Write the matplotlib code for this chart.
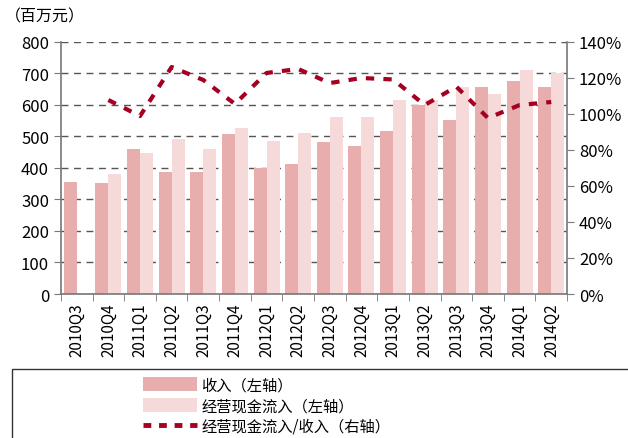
import matplotlib
matplotlib.use("Agg")
from matplotlib import pyplot as plt
from matplotlib.patches import Rectangle, Patch
from matplotlib.lines import Line2D
import numpy as np

plt.rcParams['font.family'] = ['Liberation Sans Narrow', 'Noto Sans CJK SC', 'DejaVu Sans']

# ---- data ----
quarters = ['2010Q3', '2010Q4', '2011Q1', '2011Q2', '2011Q3', '2011Q4',
            '2012Q1', '2012Q2', '2012Q3', '2012Q4', '2013Q1', '2013Q2',
            '2013Q3', '2013Q4', '2014Q1', '2014Q2']
revenue = [354, 351, 459, 386, 386, 507, 399, 412, 482, 469, 517, 599,
           551, 656, 675, 656]
cash_in = [np.nan, 380, 447, 491, 459, 526, 485, 510, 561, 561, 615, 615,
           656, 634, 710, 701]
ratio = [np.nan, 107.6, 98.7, 125.9, 118.7, 105.4, 122.6, 124.8, 117.0,
         119.8, 119.0, 104.8, 115.0, 97.6, 104.8, 106.5]

c_rev = '#E8ADAD'
c_cash = '#F6DADA'
c_line = '#A50021'
cjk = ['Noto Sans CJK SC', 'DejaVu Sans']

fig = plt.figure(figsize=(6.28, 4.39), dpi=100)
ax = fig.add_axes([0.097, 0.328, 0.806, 0.575])

x = np.arange(len(quarters))
w = 0.41
ax.bar(x - w / 2, revenue, width=w, color=c_rev, zorder=2)
ax.bar(x + w / 2, cash_in, width=w, color=c_cash, zorder=2)

ax.set_xlim(-0.5, len(quarters) - 0.5)
ax.set_ylim(0, 800)
ax.set_yticks(range(0, 801, 100))
ax.yaxis.grid(True, linestyle=(0, (5, 4)), color='#555555', linewidth=1, zorder=0)
ax.set_axisbelow(True)

ax.set_xticks(x)
ax.set_xticklabels(quarters, rotation=90, fontsize=11)
ax.set_xticks(np.arange(-0.5, len(quarters), 1), minor=True)
ax.tick_params(axis='x', which='major', length=0, pad=6)
ax.tick_params(axis='x', which='minor', length=5, color='#777777', direction='out')
ax.tick_params(axis='y', labelsize=12, length=5, color='#777777')

for s in ['top', 'right']:
    ax.spines[s].set_visible(False)
for s in ['left', 'bottom']:
    ax.spines[s].set_color('#777777')
    ax.spines[s].set_linewidth(1.2)

ax2 = ax.twinx()
ax2.plot(x, ratio, color=c_line, linewidth=3, linestyle=(0, (2, 2.2)), zorder=5)
ax2.set_ylim(0, 140)
ax2.set_yticks(range(0, 141, 20))
ax2.set_yticklabels([f'{v}%' for v in range(0, 141, 20)])
ax2.tick_params(axis='y', labelsize=12, length=5, color='#777777')
for s in ['top', 'left', 'bottom']:
    ax2.spines[s].set_visible(False)
ax2.spines['right'].set_color('#777777')
ax2.spines['right'].set_linewidth(1.2)

fig.text(0.008, 0.962, '（百万元）', fontsize=11.5, family=cjk, va='center', ha='left')

# legend box
fig.patches.append(Rectangle((0.019, -0.1), 1.1, 0.258, transform=fig.transFigure,
                             fill=False, edgecolor='#333333', linewidth=1))
handles = [Patch(facecolor=c_rev, edgecolor='none'),
           Patch(facecolor=c_cash, edgecolor='none'),
           Line2D([0], [0], color=c_line, linewidth=3.5, linestyle=(0, (1.6, 1.6)))]
labels = ['收入（左轴）', '经营现金流入（左轴）', '经营现金流入/收入（右轴）']
fig.legend(handles, labels, loc='upper left', bbox_to_anchor=(0.216, 0.158),
           frameon=False, prop={'family': cjk, 'size': 11}, handlelength=3.5,
           handleheight=1.1, labelspacing=0.25, handletextpad=0.3, borderpad=0)

fig.savefig('out.png', dpi=100)
